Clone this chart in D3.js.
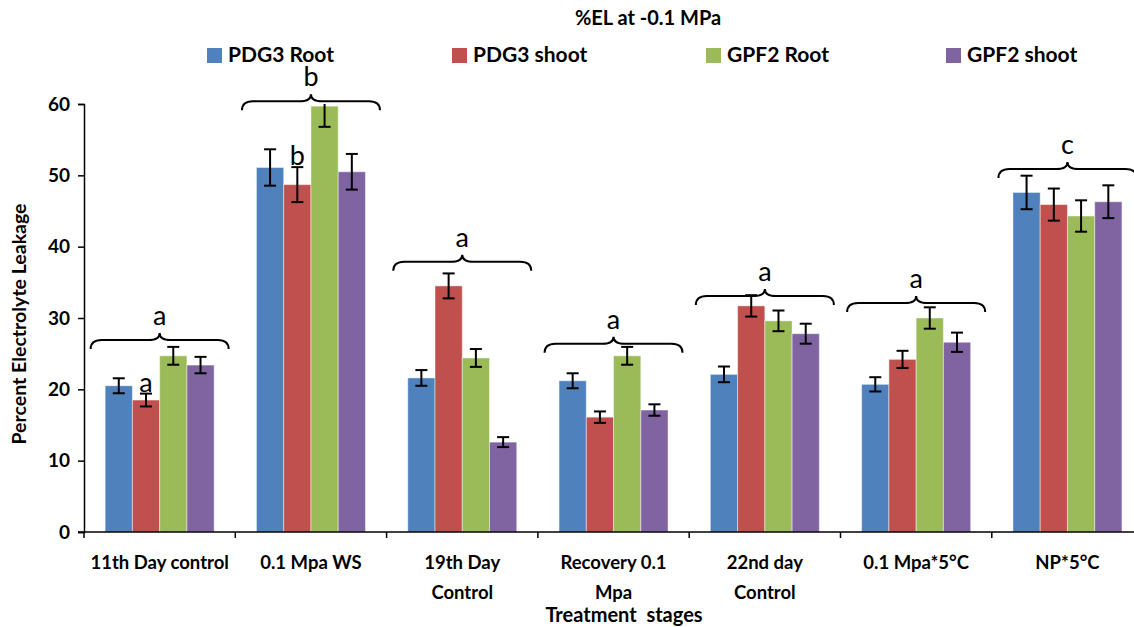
<!DOCTYPE html>
<html>
<head>
<meta charset="utf-8">
<script src="https://cdn.jsdelivr.net/npm/d3@7"></script>
<style>
  body { margin: 0; background: #fff; }
  text { font-family: Lato, "Open Sans", sans-serif; }
</style>
</head>
<body>
<div id="chart"></div>
<script>
// chart data
var categories = ["11th Day control", "0.1 Mpa WS", "19th Day Control", "Recovery 0.1 Mpa",
                  "22nd day Control", "0.1 Mpa*5°C", "NP*5°C"];
var categoryLines = [["11th Day control"], ["0.1 Mpa WS"], ["19th Day", "Control"], ["Recovery 0.1", "Mpa"],
                     ["22nd day", "Control"], ["0.1 Mpa*5°C"], ["NP*5°C"]];
var seriesNames = ["PDG3 Root", "PDG3 shoot", "GPF2 Root", "GPF2 shoot"];

var pdg3Root   = [20.5, 51.1, 21.6, 21.2, 22.1, 20.7, 47.6];
var pdg3Shoot  = [18.5, 48.7, 34.5, 16.1, 31.7, 24.2, 45.9];
var gpf2Root   = [24.7, 59.7, 24.4, 24.7, 29.6, 30.0, 44.3];
var gpf2Shoot  = [23.4, 50.5, 12.6, 17.1, 27.8, 26.6, 46.3];

var pdg3RootErr  = [1.05, 2.55, 1.1, 1.05, 1.1, 1.0, 2.35];
var pdg3ShootErr = [0.9, 2.45, 1.75, 0.8, 1.5, 1.2, 2.25];
var gpf2RootErr  = [1.25, 2.9, 1.25, 1.25, 1.45, 1.5, 2.2];
var gpf2ShootErr = [1.15, 2.5, 0.7, 0.8, 1.4, 1.35, 2.3];

// significance letters: brace over each group, plus two over single bars
var braceLevels  = [26.9, 60.4, 37.9, 26.4, 33.1, 32.1, 50.9];
var braceLetters = ["a", "b", "a", "a", "a", "a", "c"];
var barLetters   = [{group: 0, series: 1, letter: "a"}, {group: 1, series: 1, letter: "b"}];

var yTicks = [0, 10, 20, 30, 40, 50, 60];
var colors = ["#4F81BD", "#C0504D", "#9BBB59", "#8064A2"];

var svgWidth = 1134;
var svgHeight = 627;

var svg = d3.select("#chart")
    .append("svg")
    .attr("width", svgWidth)
    .attr("height", svgHeight);

var values = [pdg3Root, pdg3Shoot, gpf2Root, gpf2Shoot];
var errors = [pdg3RootErr, pdg3ShootErr, gpf2RootErr, gpf2ShootErr];

// flatten into rows for the bars
var rows = [];
categories.forEach(function(cat, i) {
    seriesNames.forEach(function(s, j) {
        rows.push({cat: cat, series: s, idx: j, value: values[j][i], err: errors[j][i]});
    });
});

// scales
var xScale = d3.scaleBand()
    .domain(categories)
    .range([84, 84 + 7 * 151.3])
    .paddingInner(0);

var groupWidth = 109;
var xInner = d3.scaleBand()
    .domain(seriesNames)
    .range([0, groupWidth]);
var groupOffset = (xScale.bandwidth() - groupWidth) / 2;

var yScale = d3.scaleLinear()
    .domain([0, 60])
    .range([532, 104]);

function barX(d) { return xScale(d.cat) + groupOffset + xInner(d.series); }

// bars
svg.append("g")
    .selectAll("rect")
    .data(rows)
    .enter()
    .append("rect")
    .attr("x", barX)
    .attr("y", d => yScale(d.value))
    .attr("width", xInner.bandwidth())
    .attr("height", d => yScale(0) - yScale(d.value))
    .attr("fill", d => colors[d.idx])
    .attr("stroke", "rgba(255,255,255,0.45)")
    .attr("stroke-width", 1);

// error bars (clipped at the top of the axis like the original)
var errGroup = svg.append("g")
    .attr("stroke", "#000")
    .attr("stroke-width", 2);

rows.forEach(function(d) {
    var cx = barX(d) + xInner.bandwidth() / 2;
    var top = d.value + d.err;
    var topY = yScale(Math.min(top, 60));
    var botY = yScale(d.value - d.err);
    errGroup.append("line")
        .attr("x1", cx).attr("x2", cx)
        .attr("y1", topY).attr("y2", botY);
    if (top <= 60) {
        errGroup.append("line")
            .attr("x1", cx - 6).attr("x2", cx + 6)
            .attr("y1", topY).attr("y2", topY);
    }
    errGroup.append("line")
        .attr("x1", cx - 6).attr("x2", cx + 6)
        .attr("y1", botY).attr("y2", botY);
});

// y axis
var leftAxis = d3.axisLeft(yScale)
    .tickValues(yTicks)
    .tickSize(6)
    .tickPadding(8);

var yAxisG = svg.append("g")
    .attr("transform", "translate(84,0)")
    .call(leftAxis);
yAxisG.select(".domain").attr("stroke-width", 1.5);
yAxisG.selectAll(".tick line").attr("stroke-width", 1.5);
yAxisG.selectAll("text")
    .attr("font-size", "19px")
    .attr("font-weight", "bold")
    .attr("fill", "#000");

// x axis: line + ticks on category boundaries
var xAxisG = svg.append("g");
xAxisG.append("line")
    .attr("x1", 78).attr("x2", svgWidth + 20)
    .attr("y1", yScale(0)).attr("y2", yScale(0))
    .attr("stroke", "#000").attr("stroke-width", 1.5);

xAxisG.selectAll(".bound")
    .data(categories)
    .enter()
    .append("line")
    .attr("x1", d => xScale(d)).attr("x2", d => xScale(d))
    .attr("y1", yScale(0)).attr("y2", yScale(0) + 6)
    .attr("stroke", "#000").attr("stroke-width", 1.5);

var xLabels = xAxisG.selectAll(".xlab")
    .data(categories)
    .enter()
    .append("text")
    .attr("text-anchor", "middle")
    .attr("font-size", "18.5px")
    .attr("font-weight", "bold")
    .attr("fill", "#000");

xLabels.each(function(d, i) {
    var t = d3.select(this);
    categoryLines[i].forEach(function(line, k) {
        t.append("tspan")
            .attr("x", xScale(d) + xScale.bandwidth() / 2)
            .attr("y", 569 + k * 30)
            .text(line);
    });
});

// braces with letters
function bracePath(x0, x1, y) {
    var xc = (x0 + x1) / 2, r = 11, h = 7, drop = 9;
    return "M" + x0 + "," + (y + drop) +
        " Q" + x0 + "," + y + " " + (x0 + r) + "," + y +
        " L" + (xc - r) + "," + y +
        " Q" + xc + "," + y + " " + xc + "," + (y - h) +
        " Q" + xc + "," + y + " " + (xc + r) + "," + y +
        " L" + (x1 - r) + "," + y +
        " Q" + x1 + "," + y + " " + x1 + "," + (y + drop);
}

var braceG = svg.append("g");
categories.forEach(function(cat, i) {
    var xc = xScale(cat) + xScale.bandwidth() / 2;
    var y = yScale(braceLevels[i]);
    braceG.append("path")
        .attr("d", bracePath(xc - 69, xc + 69, y))
        .attr("fill", "none")
        .attr("stroke", "#000")
        .attr("stroke-width", 2);
    braceG.append("text")
        .attr("x", xc)
        .attr("y", y - 15)
        .attr("text-anchor", "middle")
        .attr("font-size", "27px")
        .attr("fill", "#000")
        .text(braceLetters[i]);
});

barLetters.forEach(function(b) {
    var v = values[b.series][b.group] + errors[b.series][b.group];
    braceG.append("text")
        .attr("x", xScale(categories[b.group]) + groupOffset + xInner(seriesNames[b.series]) + xInner.bandwidth() / 2)
        .attr("y", yScale(v) - 2)
        .attr("text-anchor", "middle")
        .attr("font-size", "27px")
        .attr("fill", "#000")
        .text(b.letter);
});

// title and legend
svg.append("text")
    .attr("x", 648)
    .attr("y", 25)
    .attr("text-anchor", "middle")
    .attr("font-size", "20px")
    .attr("font-weight", "bold")
    .text("%EL at -0.1 MPa");

var legendX = [207, 452, 706, 946];
var legend = svg.append("g")
    .selectAll("g")
    .data(seriesNames)
    .enter()
    .append("g")
    .attr("transform", (d, i) => `translate(${legendX[i]}, 48)`);

legend.append("rect")
    .attr("width", 15).attr("height", 15)
    .attr("fill", (d, i) => colors[i]);

legend.append("text")
    .attr("x", 21)
    .attr("y", 14)
    .attr("font-size", "21px")
    .attr("font-weight", "bold")
    .text(d => d);

// axis titles
svg.append("text")
    .attr("transform", "translate(26, 324) rotate(-90)")
    .attr("text-anchor", "middle")
    .attr("font-size", "19.5px")
    .attr("font-weight", "bold")
    .text("Percent Electrolyte Leakage");

svg.append("text")
    .attr("x", 624)
    .attr("y", 622)
    .attr("text-anchor", "middle")
    .attr("font-size", "20px")
    .attr("font-weight", "bold")
    .attr("xml:space", "preserve")
    .style("white-space", "pre")
    .text("Treatment  stages");
</script>
</body>
</html>
